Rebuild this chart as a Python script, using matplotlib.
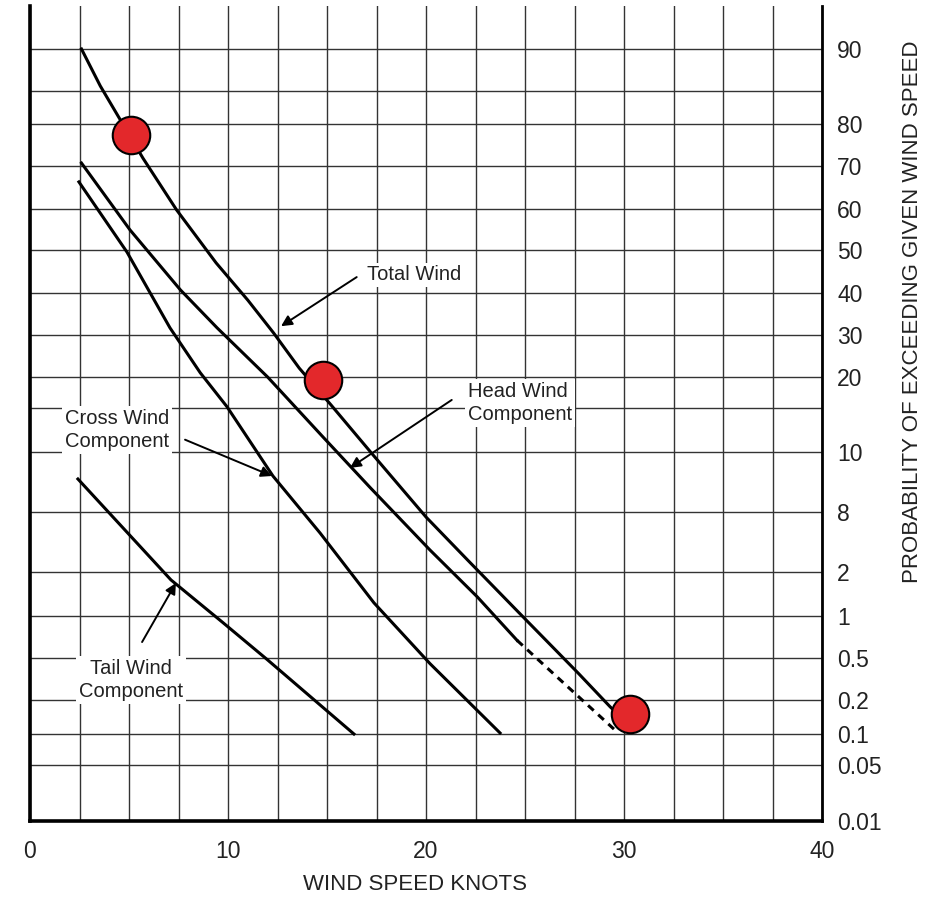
import numpy as np
import matplotlib.pyplot as plt
from matplotlib.ticker import FixedLocator, FixedFormatter, NullFormatter

plt.rcParams["font.family"] = ["Liberation Sans", "DejaVu Sans"]

# probability paper: printed values and where each ruling sits (px above the bottom edge)
prob_ticks = [0.01, 0.05, 0.1, 0.2, 0.5, 1, 2, 8, 10, 20, 30, 40, 50, 60, 70, 80, 90]
prob_labels = ["0.01", "0.05", "0.1", "0.2", "0.5", "1", "2", "8", "10",
               "20", "30", "40", "50", "60", "70", "80", "90"]
prob_minor = [15, 85]
ruling_vals = [0.01, 0.05, 0.1, 0.2, 0.5, 1, 2, 8, 10, 15, 20, 30, 40, 50, 60, 70, 80, 85, 90]
ruling_pos = [0, 56, 87, 121, 163, 205, 249, 309, 369, 413, 444, 486, 528, 571, 612, 655, 697, 730, 772]

# curves: wind speed (knots) vs probability of exceeding (%)
total_x = [2.6, 3.55, 5.7, 7.4, 9.4, 11.0, 12.3, 13.6, 15.2, 17.2, 20.0, 22.1, 24.9, 27.7, 29.3, 29.9]
total_p = [90, 85.6, 71.9, 59.8, 47.0, 38.3, 30.5, 22.1, 15.5, 10.0, 7.5, 3.2, 0.99, 0.39, 0.18, 0.147]

head_x = [2.6, 5.05, 7.6, 9.45, 12.0, 14.8, 17.2, 20.2, 22.6, 24.6]
head_p = [70.7, 54.9, 40.7, 31.7, 20.0, 11.7, 8.8, 4.2, 1.43, 0.71]
head_ext_x = [24.6, 29.65]
head_ext_p = [0.71, 0.106]

cross_x = [2.47, 4.9, 7.07, 8.6, 9.95, 12.27, 14.65, 17.37, 20.2, 23.74]
cross_p = [66.3, 49.5, 31.7, 21.0, 15.2, 9.2, 5.9, 1.3, 0.46, 0.103]

tail_x = [2.42, 7.12, 9.75, 11.97, 16.36]
tail_p = [9.1, 1.82, 0.92, 0.49, 0.1]

dot_x = [5.1, 14.8, 30.3]
dot_p = [77.5, 19.5, 0.16]

top_slope = (ruling_pos[-1] - ruling_pos[-2]) / (ruling_vals[-1] - ruling_vals[-2])


def prob_to_pos(p):
    p = np.asarray(p, dtype=float)
    h = np.interp(p, ruling_vals, ruling_pos)
    return np.where(p > ruling_vals[-1], ruling_pos[-1] + (p - ruling_vals[-1]) * top_slope, h)


def pos_to_prob(h):
    h = np.asarray(h, dtype=float)
    p = np.interp(h, ruling_pos, ruling_vals)
    return np.where(h > ruling_pos[-1], ruling_vals[-1] + (h - ruling_pos[-1]) / top_slope, p)


fig = plt.figure(figsize=(9.33, 8.99), dpi=100)
ax = fig.add_axes([30 / 933, 1 - 821 / 899, 792 / 933, 815 / 899])
ax.set_yscale("function", functions=(prob_to_pos, pos_to_prob))
ax.set_xlim(0, 40)
ax.set_ylim(0.01, float(pos_to_prob(815)))

ax.set_xticks(np.arange(0, 41, 10))
ax.set_xticks(np.arange(2.5, 40, 2.5), minor=True)
ax.yaxis.set_major_locator(FixedLocator(prob_ticks))
ax.yaxis.set_major_formatter(FixedFormatter(prob_labels))
ax.yaxis.set_minor_locator(FixedLocator(prob_minor))
ax.yaxis.set_minor_formatter(NullFormatter())
ax.yaxis.tick_right()
ax.grid(which="both", color="#333333", lw=1.0)
ax.set_axisbelow(True)
ax.tick_params(which="both", length=0, labelsize=16.5, colors="#222222")
ax.tick_params(axis="x", pad=14)
ax.tick_params(axis="y", pad=11)

ax.spines["top"].set_visible(False)
ax.spines["left"].set_linewidth(2.6)
ax.spines["bottom"].set_linewidth(2.6)
ax.spines["right"].set_linewidth(2.0)

lw = 2.2
ax.plot(total_x, total_p, color="k", lw=lw)
ax.plot(head_x, head_p, color="k", lw=lw)
ax.plot(head_ext_x, head_ext_p, color="k", lw=lw, ls=(0, (2.5, 2)))
ax.plot(cross_x, cross_p, color="k", lw=lw)
ax.plot(tail_x, tail_p, color="k", lw=lw)

ax.plot(dot_x, dot_p, "o", ms=27, mfc="#e3282b", mec="k", mew=1.5, zorder=5, clip_on=False)

box = dict(fc="white", ec="none", pad=2)
txt = dict(fontsize=14.5, color="#222222", va="center", linespacing=1.25, bbox=box)
ax.text(19.4, 44.2, "Total Wind", ha="center", **txt)
ax.text(22.1, 15.8, "Head Wind\nComponent", ha="left", multialignment="left", **txt)
ax.text(1.77, 12.5, "Cross Wind\nComponent", ha="left", multialignment="left", **txt)
ax.text(5.1, 0.343, "Tail Wind\nComponent", ha="center", multialignment="center", **txt)

arrow = dict(arrowstyle="-|>", color="k", lw=1.4, mutation_scale=16, shrinkA=0, shrinkB=0)
ax.annotate("", xy=(12.68, 32.1), xytext=(16.5, 43.7), arrowprops=arrow)
ax.annotate("", xy=(16.16, 9.47), xytext=(21.3, 16.3), arrowprops=arrow)
ax.annotate("", xy=(12.22, 9.2), xytext=(7.83, 11.4), arrowprops=arrow)
ax.annotate("", xy=(7.37, 1.75), xytext=(5.66, 0.69), arrowprops=arrow)

fig.text(415 / 933, 1 - 885 / 899, "WIND SPEED KNOTS", ha="center", va="center",
         fontsize=16, color="#222222")
fig.text(912 / 933, 1 - 312 / 899, "PROBABILITY OF EXCEEDING GIVEN WIND SPEED",
         rotation=90, ha="center", va="center", fontsize=16, color="#222222")

fig.savefig("out.png", dpi=100)
